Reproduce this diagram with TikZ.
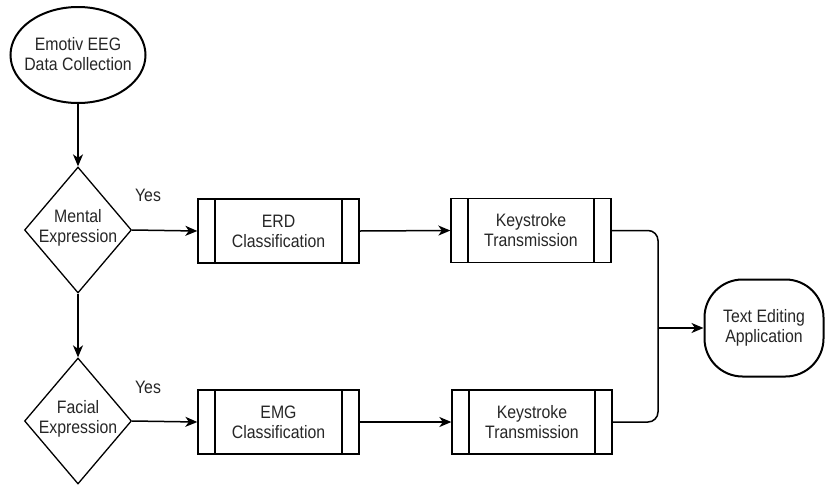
\documentclass[tikz,border=0pt]{standalone}
\usepackage{fontspec}
\setmainfont{Liberation Sans}[FakeStretch=0.88]
\usetikzlibrary{shapes.geometric,arrows.meta,calc}
\begin{document}
\begin{tikzpicture}[x=1pt,y=-1pt,
 txt/.style={font=\fontsize{18}{20}\selectfont, align=center, text=black!85, inner sep=0},
 proc/.style={draw, line width=1.3pt, minimum width=161pt, minimum height=64pt, inner sep=0,
   font=\fontsize{18}{20}\selectfont, align=center, text=black!85,
   path picture={\draw[line width=1.3pt]
     ([xshift=17pt]path picture bounding box.north west) -- ([xshift=17pt]path picture bounding box.south west)
     ([xshift=-17pt]path picture bounding box.north east) -- ([xshift=-17pt]path picture bounding box.south east);}},
 ell/.style={draw, ellipse, line width=2pt, minimum width=135pt, minimum height=96pt, inner sep=0},
 dia/.style={draw, diamond, line width=1.3pt, minimum width=107pt, minimum height=126pt, inner sep=0},
 term/.style={draw, line width=2pt, rounded corners=38pt, minimum width=119pt, minimum height=97pt, inner sep=0,
   font=\fontsize{18}{20}\selectfont, align=center, text=black!85},
 arr/.style={-{Stealth[length=12pt,width=10pt,inset=3.5pt]}, line width=1.5pt},
 line/.style={line width=1.5pt}
]
\useasboundingbox (0,0) rectangle (826,485);

\node[ell] (src) at (78,55) {};
\node[txt] (srct) at (78,54) {Emotiv EEG\\Data Collection};

\node[dia] (d1) at (78,230) {};
\node[txt] (d1t) at (78,228) {Mental\\Expression};

\node[dia] (d2) at (78,421) {};
\node[txt] (d2t) at (78,419) {Facial\\Expression};

\node[proc] (erd) at (278.5,231) {ERD\\Classification};
\node[proc] (emg) at (278.5,422) {EMG\\Classification};
\node[proc, minimum width=160pt] (k1) at (531,230.5) {Keystroke\\Transmission};
\node[proc, minimum width=160pt] (k2) at (532,422) {Keystroke\\Transmission};

\node[term] (app) at (764,328) {Text Editing\\Application};

\node[txt] (y1) at (148,195) {Yes};
\node[txt] (y2) at (148,387) {Yes};

\coordinate (jn) at (658,328);

\draw[arr] (src) -- (d1);
\draw[arr] (d1) -- (d2);
\draw[arr] (d1.east) -- (erd.west);
\draw[arr] (d2.east) -- (emg.west);
\draw[arr] (erd.east) -- (k1.west);
\draw[arr] (emg.east) -- (k2.west);
\draw[line, rounded corners=10pt] (k1.east) -| (jn);
\draw[line, rounded corners=10pt] (k2.east) -| (jn);
\draw[arr] (jn) -- (app.west);
\end{tikzpicture}
\end{document}
